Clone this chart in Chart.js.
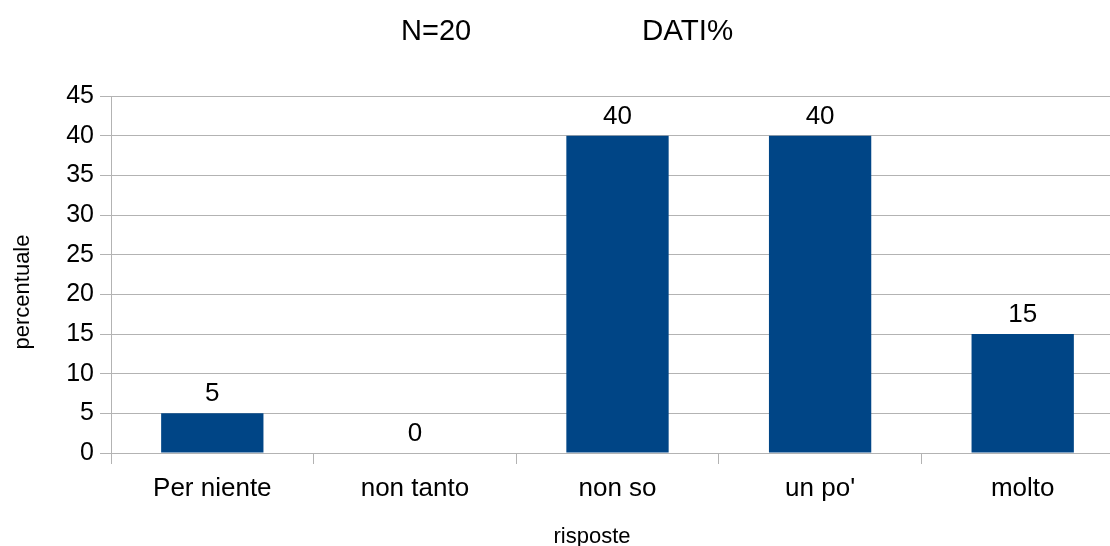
<!DOCTYPE html>
<html>
<head>
<meta charset="utf-8">
<script src="https://cdn.jsdelivr.net/npm/chart.js@4/dist/chart.umd.min.js"></script>
<style>
  html, body { margin: 0; padding: 0; background: #fff; overflow: hidden; }
  #wrap { width: 1110px; height: 546px; overflow: hidden; }
</style>
</head>
<body>
<div id="wrap"><canvas id="c" width="1124" height="546"></canvas></div>
<script>
// Survey answers and their share (%)
const categories = ['Per niente', 'non tanto', 'non so', "un po'", 'molto'];
const percentages = [5, 0, 40, 40, 15];
const yTicks = [0, 5, 10, 15, 20, 25, 30, 35, 40, 45];

const titleLeft = 'N=20';
const titleRight = 'DATI%';
const xTitle = 'risposte';
const yTitle = 'percentuale';

const FONT = '"Liberation Sans", Arial, sans-serif';
const BAR = '#004586';
const GRID = '#b3b3b3';

// Title, axis titles and value labels drawn on top of the chart
const annotations = {
  id: 'annotations',
  afterDraw(chart) {
    const ctx = chart.ctx;
    ctx.save();
    ctx.fillStyle = '#000';

    // chart title (two parts)
    ctx.font = '29px ' + FONT;
    ctx.textAlign = 'left';
    ctx.textBaseline = 'alphabetic';
    ctx.fillText(titleLeft, 401, 40);
    ctx.font = '29.5px ' + FONT;
    ctx.fillText(titleRight, 642, 40);

    // x axis title
    ctx.font = '22px ' + FONT;
    ctx.textAlign = 'center';
    ctx.fillText(xTitle, 592, 543);

    // y axis title
    ctx.save();
    ctx.translate(29, 292);
    ctx.rotate(-Math.PI / 2);
    ctx.fillText(yTitle, 0, 0);
    ctx.restore();

    // value labels above bars
    ctx.font = '26px ' + FONT;
    const meta = chart.getDatasetMeta(0);
    meta.data.forEach((bar, i) => {
      ctx.fillText(String(percentages[i]), bar.x, bar.y - 12);
    });
    ctx.restore();
  }
};

new Chart(document.getElementById('c'), {
  type: 'bar',
  data: {
    labels: categories,
    datasets: [{
      data: percentages,
      backgroundColor: BAR,
      borderWidth: 0,
      categoryPercentage: 1,
      barPercentage: 0.505
    }]
  },
  options: {
    responsive: false,
    animation: false,
    layout: { padding: { left: 0, right: 0, top: 96, bottom: 0 } },
    plugins: {
      legend: { display: false },
      title: { display: false },
      tooltip: { enabled: false }
    },
    scales: {
      x: {
        offset: true,
        grid: {
          offset: true,
          drawOnChartArea: false,
          drawTicks: true,
          tickLength: 11,
          color: GRID
        },
        border: { display: false },
        ticks: {
          color: '#000',
          font: { family: FONT, size: 26 },
          padding: 9,
          maxRotation: 0,
          autoSkip: false
        },
        afterFit(scale) { scale.height = 93; }
      },
      y: {
        min: 0,
        max: 45,
        afterBuildTicks(scale) { scale.ticks = yTicks.map(v => ({ value: v })); },
        grid: {
          color: GRID,
          tickLength: 11,
          drawTicks: true
        },
        border: { display: true, color: GRID },
        ticks: {
          color: '#000',
          font: { family: FONT, size: 25 },
          padding: 6
        },
        afterFit(scale) { scale.width = 111; }
      }
    }
  },
  plugins: [annotations]
});
</script>
</body>
</html>
